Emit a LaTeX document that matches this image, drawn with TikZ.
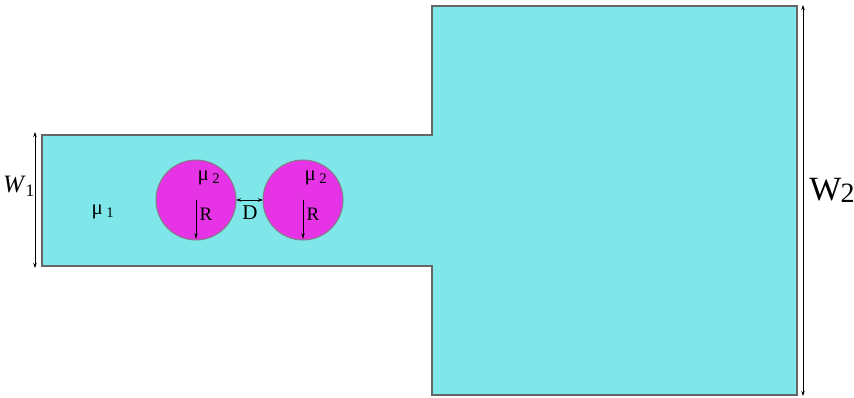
\documentclass[tikz,border=0pt]{standalone}
\usepackage{fontspec}
\setmainfont{Liberation Serif}
\usetikzlibrary{arrows.meta}
\definecolor{fluidA}{HTML}{7FE7EA}
\definecolor{fluidB}{HTML}{E633E6}
\tikzset{
    wall/.style={draw=black!60, line width=1.1pt},
    dim/.style={{Stealth[length=5pt,width=3.5pt]}-{Stealth[length=5pt,width=3.5pt]}, line width=0.7pt},
    rad/.style={-{Stealth[length=6pt,width=3.5pt]}, line width=0.7pt},
    lab/.style={inner sep=0pt}
}
\begin{document}
\begin{tikzpicture}[x=1pt,y=-1pt]
    \useasboundingbox (0,0) rectangle (854,398);
    % channel
    \draw[wall, fill=fluidA] (42,135) -- (432,135) -- (432,6) -- (797,6) -- (797,395)
        -- (432,395) -- (432,266) -- (42,266) -- cycle;
    % droplets
    \foreach \n/\x in {a/196, b/303}{
        \draw[draw=black!50, line width=1pt, fill=fluidB] (\x,200) circle (40);
        \coordinate (c\n) at (\x,200);
        \coordinate (r\n) at (\x,239);
        \draw[rad] (c\n) -- (r\n);
        \node[lab, font=\fontsize{19}{19}\selectfont] (R\n) at (\x+10,214) {R};
        \node[lab, font=\fontsize{21}{21}\selectfont] (mu\n) at (\x+13,178) {μ\,\textsubscript{2}};
    }
    % gap
    \coordinate (d1) at (236,200);
    \coordinate (d2) at (263,200);
    \draw[dim] (d1) -- (d2);
    \node[lab, font=\fontsize{21}{21}\selectfont] (D) at (250,213) {D};
    \node[lab, font=\fontsize{21}{21}\selectfont] (mu1) at (103,212) {μ\,\textsubscript{1}};
    % widths
    \coordinate (w1t) at (35,132);
    \coordinate (w1b) at (35,268);
    \draw[dim] (w1t) -- (w1b);
    \node[lab, font=\fontsize{25}{25}\selectfont] (W1) at (19,186) {\textit{W}\textsubscript{1}};
    \coordinate (w2t) at (803,5);
    \coordinate (w2b) at (803,396);
    \draw[dim] (w2t) -- (w2b);
    \node[lab, font=\fontsize{34}{34}\selectfont] (W2) at (832,190) {W\kern-1pt\raisebox{-2pt}{\fontsize{28}{28}\selectfont 2}};
\end{tikzpicture}
\end{document}
